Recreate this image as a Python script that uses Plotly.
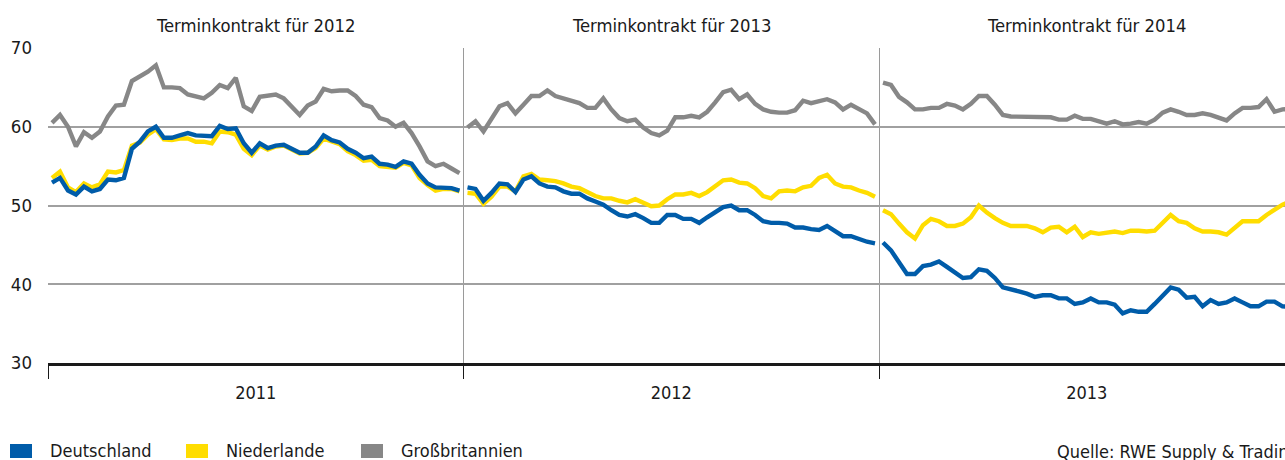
import plotly.graph_objects as go

# ---- data (weekly forward prices, EUR/MWh) ----
years = [2011, 2012, 2013]
panel_titles = ["Terminkontrakt für 2012", "Terminkontrakt für 2013", "Terminkontrakt für 2014"]
series_names = ["Großbritannien", "Niederlande", "Deutschland"]

gb_2011 = [60.5, 61.5, 60.0, 57.5, 59.3, 58.6, 59.4, 61.3, 62.7, 62.8,
           65.8, 66.4, 67.0, 67.8, 65.0, 65.0, 64.9, 64.1, 63.9, 63.6,
           64.3, 65.3, 64.9, 66.2, 62.6, 62.0, 63.8, 63.9, 64.1, 63.6,
           62.5, 61.5, 62.7, 63.2, 64.8, 64.5, 64.6, 64.6, 63.9, 62.8,
           62.5, 61.1, 60.8, 60.0, 60.5, 59.2, 57.5, 55.6, 55.0, 55.3,
           54.7, 54.1]
nl_2011 = [53.5, 54.3, 52.3, 51.7, 52.8, 52.3, 52.7, 54.3, 54.2, 54.5,
           57.6, 58.0, 59.0, 59.7, 58.4, 58.3, 58.5, 58.5, 58.1, 58.1,
           57.9, 59.4, 59.3, 59.0, 57.2, 56.4, 57.6, 57.1, 57.5, 57.6,
           57.1, 56.6, 56.7, 57.3, 58.5, 58.1, 57.8, 56.9, 56.4, 55.7,
           55.8, 55.0, 54.9, 54.8, 55.4, 55.1, 53.5, 52.6, 51.9, 52.1,
           52.1, 51.8]
de_2011 = [52.9, 53.5, 51.9, 51.4, 52.4, 51.8, 52.1, 53.3, 53.2, 53.5,
           57.2, 58.1, 59.4, 60.0, 58.6, 58.6, 58.9, 59.2, 58.9, 58.9,
           58.8, 60.1, 59.7, 59.8, 57.9, 56.7, 57.9, 57.3, 57.6, 57.7,
           57.2, 56.7, 56.7, 57.5, 58.9, 58.3, 58.0, 57.2, 56.7, 56.0,
           56.2, 55.3, 55.2, 54.9, 55.6, 55.3, 53.9, 52.8, 52.3, 52.3,
           52.2, 51.9]

gb_2012 = [59.9, 60.7, 59.4, 61.0, 62.6, 63.0, 61.7, 62.8, 63.9, 63.9,
           64.6, 63.9, 63.6, 63.2, 63.0, 62.4, 62.4, 63.6, 62.2, 61.1,
           60.7, 60.9, 59.9, 59.2, 58.9, 59.5, 61.2, 61.2, 61.4, 61.2,
           61.9, 63.1, 64.4, 64.7, 63.5, 64.1, 62.9, 62.2, 61.9, 61.8,
           61.8, 62.1, 63.3, 63.0, 63.3, 63.5, 63.1, 62.2, 62.8, 62.2,
           61.7, 60.3]
nl_2012 = [51.6, 51.5, 50.2, 51.1, 52.4, 52.4, 51.8, 53.7, 54.0, 53.3,
           53.2, 53.1, 52.8, 52.4, 52.2, 51.7, 51.2, 50.9, 50.9, 50.6,
           50.4, 50.8, 50.4, 49.9, 50.0, 50.8, 51.4, 51.4, 51.6, 51.2,
           51.7, 52.4, 53.2, 53.3, 52.9, 52.8, 52.2, 51.2, 50.9, 51.8,
           51.9, 51.8, 52.3, 52.5, 53.5, 53.9, 52.8, 52.4, 52.3, 51.9,
           51.6, 51.1]
de_2012 = [52.3, 52.1, 50.6, 51.6, 52.8, 52.7, 51.7, 53.3, 53.7, 52.8,
           52.4, 52.3, 51.8, 51.5, 51.5, 50.9, 50.5, 50.1, 49.4, 48.8,
           48.6, 48.9, 48.4, 47.8, 47.8, 48.8, 48.8, 48.3, 48.3, 47.8,
           48.5, 49.2, 49.8, 50.0, 49.4, 49.4, 48.8, 48.0, 47.8, 47.8,
           47.7, 47.2, 47.2, 47.0, 46.9, 47.4, 46.7, 46.1, 46.1, 45.7,
           45.4, 45.2]

gb_2013 = [65.6, 65.3, 63.8, 63.1, 62.2, 62.2, 62.4, 62.4, 62.9, 62.7,
           62.2, 62.9, 63.9, 63.9, 62.8, 61.5, 61.3, 61.3, 61.3, 61.3,
           61.3, 61.2, 60.9, 60.9, 61.4, 61.0, 61.0, 60.7, 60.4, 60.7,
           60.3, 60.4, 60.6, 60.4, 60.9, 61.8, 62.2, 61.9, 61.5, 61.5,
           61.7, 61.5, 61.2, 60.8, 61.7, 62.4, 62.4, 62.5, 63.5, 61.9,
           62.2, 62.3]
nl_2013 = [49.4, 48.9, 47.7, 46.6, 45.8, 47.5, 48.3, 48.0, 47.4, 47.4,
           47.7, 48.5, 50.0, 49.1, 48.4, 47.8, 47.4, 47.4, 47.4, 47.1,
           46.6, 47.2, 47.3, 46.6, 47.3, 46.0, 46.6, 46.4, 46.5, 46.7,
           46.5, 46.8, 46.8, 46.7, 46.8, 47.8, 48.8, 48.0, 47.8, 47.1,
           46.7, 46.7, 46.6, 46.3, 47.2, 48.0, 48.0, 48.0, 48.8, 49.4,
           50.1, 50.5]
de_2013 = [45.3, 44.3, 42.8, 41.3, 41.3, 42.3, 42.5, 42.9, 42.2, 41.5,
           40.8, 40.9, 41.9, 41.7, 40.8, 39.6, 39.4, 39.1, 38.8, 38.4,
           38.6, 38.6, 38.2, 38.2, 37.5, 37.7, 38.2, 37.7, 37.7, 37.4,
           36.3, 36.7, 36.5, 36.5, 37.5, 38.6, 39.6, 39.3, 38.3, 38.4,
           37.2, 38.0, 37.5, 37.7, 38.2, 37.7, 37.2, 37.2, 37.8, 37.8,
           37.2, 37.1]

data = {
    "Großbritannien": [gb_2011, gb_2012, gb_2013],
    "Niederlande": [nl_2011, nl_2012, nl_2013],
    "Deutschland": [de_2011, de_2012, de_2013],
}
colors = {"Deutschland": "#005ca9", "Niederlande": "#ffdd00", "Großbritannien": "#878787"}
legend_order = ["Deutschland", "Niederlande", "Großbritannien"]

FONT = "DejaVu Sans Condensed, Liberation Sans Narrow, sans-serif"
FS = 18
W, H = 1285, 460
ML, MT, MB = 48, 48, 97
plot_w = W - ML
plot_h = H - MT - MB

fig = go.Figure()
for name in series_names:
    for yr, vals in zip(years, data[name]):
        n = len(vals)
        xs = [yr + (i + 0.5) / 52 for i in range(n)]
        fig.add_trace(go.Scatter(
            x=xs, y=vals, mode="lines", name=name, showlegend=False,
            line=dict(color=colors[name], width=4.4, shape="linear"),
            hoverinfo="skip", cliponaxis=True,
        ))

x_end = years[0] + plot_w / 415.5

fig.update_layout(
    width=W, height=H,
    margin=dict(l=ML, r=0, t=MT, b=MB, pad=0, autoexpand=False),
    plot_bgcolor="white", paper_bgcolor="white",
    font=dict(family=FONT, size=FS, color="#1a1a1a"),
    showlegend=False,
    xaxis=dict(
        range=[years[0], x_end], showgrid=False, zeroline=False, automargin=False,
        showline=True, linecolor="#1a1a1a", linewidth=2.5,
        tickvals=[y + 0.5 for y in years], ticktext=[str(y) for y in years],
        ticks="", ticklen=0, ticklabelstandoff=12,
        tickfont=dict(family=FONT, size=FS, color="#1a1a1a"),
        minor=dict(tickvals=years, ticks="outside", ticklen=13, tickwidth=1.2,
                   tickcolor="#1a1a1a", showgrid=True, gridcolor="#9a9a9a", gridwidth=1.3),
        fixedrange=True,
    ),
    yaxis=dict(
        range=[30, 70], tickvals=[30, 40, 50, 60, 70], automargin=False,
        showgrid=True, gridcolor="#a0a0a0", gridwidth=1.5,
        zeroline=False, showline=False, ticks="", ticklabelstandoff=15,
        tickfont=dict(family=FONT, size=18.5, color="#1a1a1a"),
        fixedrange=True,
    ),
)

def px_x(px):
    return (px - ML) / plot_w

def px_y(py):
    return (H - MB - py) / plot_h

# panel titles
for yr, title in zip(years, panel_titles):
    fig.add_annotation(x=yr + 0.5, xref="x", y=px_y(25), yref="paper",
                       text=title, showarrow=False, xanchor="center", yanchor="middle",
                       font=dict(family=FONT, size=18.3, color="#1a1a1a"))

# legend (manual, square swatches)
legend_x = [10, 186, 361]
for name, lx in zip(legend_order, legend_x):
    fig.add_shape(type="rect", xref="paper", yref="paper",
                  x0=px_x(lx), x1=px_x(lx + 22), y0=px_y(458), y1=px_y(444),
                  fillcolor=colors[name], line=dict(width=0))
    fig.add_annotation(x=px_x(lx + 38), xref="paper", y=px_y(451), yref="paper",
                       text=name, showarrow=False, xanchor="left", yanchor="middle",
                       font=dict(family=FONT, size=FS, color="#1a1a1a"))

fig.add_annotation(x=px_x(1055), xref="paper", y=px_y(452), yref="paper",
                   text="Quelle: RWE Supply & Trading", showarrow=False,
                   xanchor="left", yanchor="middle",
                   font=dict(family=FONT, size=FS, color="#1a1a1a"))

fig.write_html("out.html", config={"displayModeBar": False},
               post_script="document.body.style.margin='0';document.body.style.overflow='hidden';")
